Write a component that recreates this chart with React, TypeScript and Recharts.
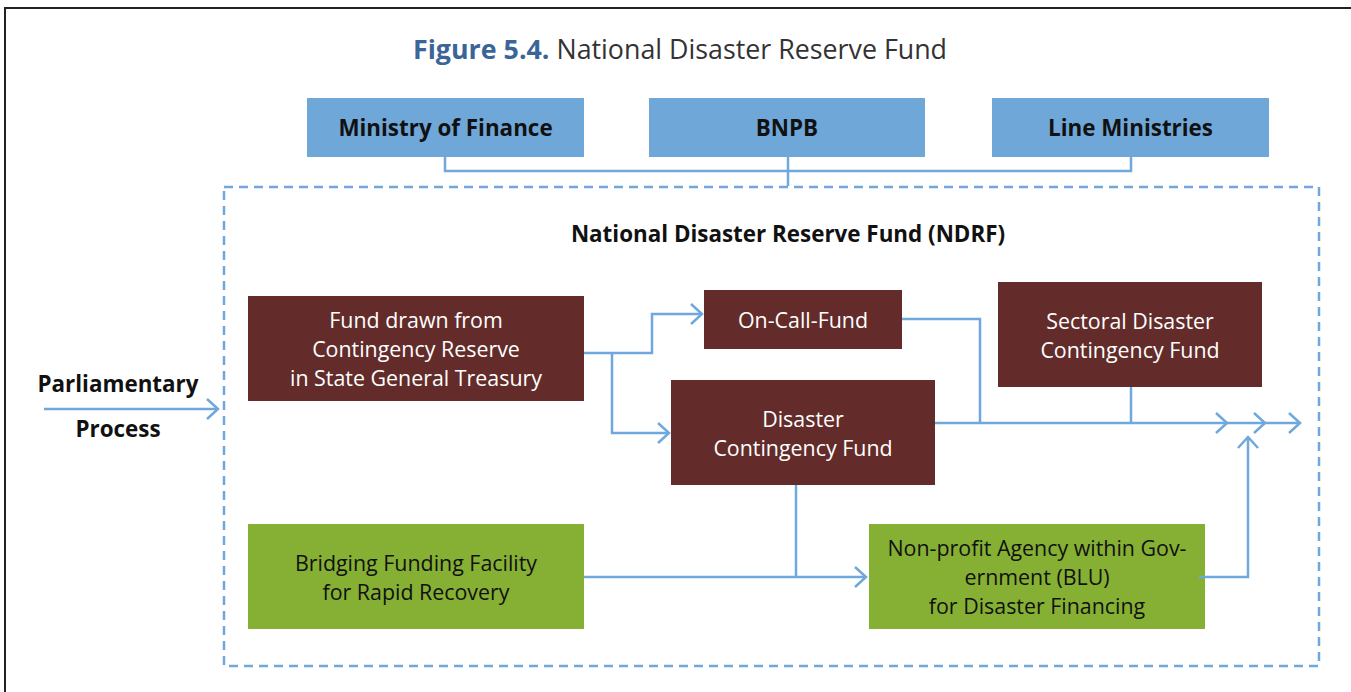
import { ComposedChart, XAxis, YAxis, Line, ReferenceArea, Scatter } from "recharts";

// diagram space: x 0..1351, y 0..692 (top down)
const topBoxes = [
  { id: "mof", lines: ["Ministry of Finance"], x1: 307, x2: 584, y1: 98, y2: 157 },
  { id: "bnpb", lines: ["BNPB"], x1: 649, x2: 925, y1: 98, y2: 157 },
  { id: "lm", lines: ["Line Ministries"], x1: 992, x2: 1269, y1: 98, y2: 157 },
];

const fundBoxes = [
  { id: "fdc", lines: ["Fund drawn from", "Contingency Reserve", "in State General Treasury"], x1: 248, x2: 584, y1: 296, y2: 401 },
  { id: "ocf", lines: ["On-Call-Fund"], x1: 704, x2: 902, y1: 290, y2: 349 },
  { id: "dcf", lines: ["Disaster", "Contingency Fund"], x1: 671, x2: 935, y1: 380, y2: 485 },
  { id: "sdcf", lines: ["Sectoral Disaster", "Contingency Fund"], x1: 998, x2: 1262, y1: 282, y2: 387 },
];

const greenBoxes = [
  { id: "bff", lines: ["Bridging Funding Facility", "for Rapid Recovery"], x1: 248, x2: 584, y1: 524, y2: 629 },
  { id: "blu", lines: ["Non-profit Agency within Gov-", "ernment (BLU)", "for Disaster Financing"], x1: 869, x2: 1205, y1: 524, y2: 629 },
];

const connectors = [
  [{ x: 445, y: 157 }, { x: 445, y: 171 }, { x: 1131, y: 171 }, { x: 1131, y: 157 }],
  [{ x: 788, y: 157 }, { x: 788, y: 186 }],
  [{ x: 44, y: 409 }, { x: 218, y: 409 }],
  [{ x: 584, y: 353 }, { x: 652, y: 353 }, { x: 652, y: 314 }, { x: 702, y: 314 }],
  [{ x: 612, y: 353 }, { x: 612, y: 433 }, { x: 669, y: 433 }],
  [{ x: 902, y: 319 }, { x: 980, y: 319 }, { x: 980, y: 423 }],
  [{ x: 935, y: 423 }, { x: 1300, y: 423 }],
  [{ x: 1131, y: 387 }, { x: 1131, y: 423 }],
  [{ x: 796, y: 485 }, { x: 796, y: 577 }],
  [{ x: 584, y: 577 }, { x: 866, y: 577 }],
  [{ x: 1199, y: 577 }, { x: 1248, y: 577 }, { x: 1248, y: 437 }],
];

const arrowTips = [
  { x: 218, y: 409, dir: "right" },
  { x: 702, y: 314, dir: "right" },
  { x: 669, y: 433, dir: "right" },
  { x: 1227, y: 423, dir: "right" },
  { x: 1265, y: 423, dir: "right" },
  { x: 1300, y: 423, dir: "right" },
  { x: 866, y: 577, dir: "right" },
  { x: 1248, y: 437, dir: "up" },
];

const frame = [{ x: 5, y: 692 }, { x: 5, y: 8 }, { x: 1351, y: 8 }];

const ndrfArea = { x1: 224, x2: 1319, y1: 187, y2: 666 };

const freeTexts = [
  { x: 118, y: 383, text: "Parliamentary", kind: "side" },
  { x: 118, y: 428, text: "Process", kind: "side" },
  { x: 788, y: 233, text: "National Disaster Reserve Fund (NDRF)", kind: "heading" },
];

const title = { x: 680, y: 48, bold: "Figure 5.4.", rest: " National Disaster Reserve Fund" };

const W = 1351;
const H = 692;
const BLUE = "#6FA8DC";
const FONT = "'Open Sans', sans-serif";

function boxLabel(lines: string[], color: string, weight: number, size: number) {
  return (props: any) => {
    const vb = props.viewBox || {};
    const cx = vb.x + vb.width / 2;
    const cy = vb.y + vb.height / 2;
    const lh = 29;
    const start = cy - ((lines.length - 1) * lh) / 2;
    return (
      <text x={cx} textAnchor="middle" fill={color} fontFamily={FONT} fontWeight={weight} fontSize={size}>
        {lines.map((l, i) => (
          <tspan key={i} x={cx} y={start + i * lh} dominantBaseline="central">
            {l}
          </tspan>
        ))}
      </text>
    );
  };
}

function ArrowHead(props: any) {
  const { cx, cy, payload } = props;
  const d = payload.dir === "up"
    ? `M${cx - 10},${cy + 11} L${cx},${cy} L${cx + 10},${cy + 11}`
    : `M${cx - 11},${cy - 10} L${cx},${cy} L${cx - 11},${cy + 10}`;
  return <path d={d} fill="none" stroke={BLUE} strokeWidth={2.5} />;
}

function FreeText(props: any) {
  const { cx, cy, payload } = props;
  return (
    <text x={cx} y={cy} textAnchor="middle" dominantBaseline="central" fontFamily={FONT}
      fontWeight={700} fontSize={22.4} fill="#111">
      {payload.text}
    </text>
  );
}

function TitleText(props: any) {
  const { cx, cy } = props;
  return (
    <text x={cx} y={cy} textAnchor="middle" dominantBaseline="central" fontFamily={FONT} fontSize={26.8}>
      <tspan fill="#3B6596" fontWeight={700}>{title.bold}</tspan>
      <tspan fill="#333">{title.rest}</tspan>
    </text>
  );
}

export default function App() {
  return (
    <div style={{ position: "absolute", left: 0, top: 0, background: "#fff" }}>
      <ComposedChart width={W} height={H} margin={{ top: 0, right: 0, bottom: 0, left: 0 }}>
        <XAxis type="number" dataKey="x" domain={[0, W]} allowDataOverflow hide />
        <YAxis type="number" dataKey="y" domain={[0, H]} reversed allowDataOverflow hide />

        <Line data={frame} dataKey="y" stroke="#222" strokeWidth={2} dot={false} activeDot={false}
          isAnimationActive={false} />

        <ReferenceArea x1={ndrfArea.x1} x2={ndrfArea.x2} y1={ndrfArea.y1} y2={ndrfArea.y2}
          fill="none" fillOpacity={0} stroke={BLUE} strokeWidth={2.5} strokeDasharray="9 6" />

        {connectors.map((c, i) => (
          <Line key={"c" + i} data={c} dataKey="y" stroke={BLUE} strokeWidth={2.5} dot={false}
            activeDot={false} isAnimationActive={false} strokeLinejoin="miter" />
        ))}

        {topBoxes.map((b) => (
          <ReferenceArea key={b.id} x1={b.x1} x2={b.x2} y1={b.y1} y2={b.y2} fill="#6FA7D9" fillOpacity={1}
            stroke="none" label={{ content: boxLabel(b.lines, "#111", 700, 22.4) }} />
        ))}
        {fundBoxes.map((b) => (
          <ReferenceArea key={b.id} x1={b.x1} x2={b.x2} y1={b.y1} y2={b.y2} fill="#632C2A" fillOpacity={1}
            stroke="none" label={{ content: boxLabel(b.lines, "#fff", 400, 21.4) }} />
        ))}
        {greenBoxes.map((b) => (
          <ReferenceArea key={b.id} x1={b.x1} x2={b.x2} y1={b.y1} y2={b.y2} fill="#86B034" fillOpacity={1}
            stroke="none" label={{ content: boxLabel(b.lines, "#111", 400, 21.4) }} />
        ))}

        <Scatter data={arrowTips} dataKey="y" shape={ArrowHead} isAnimationActive={false} />
        <Scatter data={freeTexts} dataKey="y" shape={FreeText} isAnimationActive={false} />
        <Scatter data={[title]} dataKey="y" shape={TitleText} isAnimationActive={false} />
      </ComposedChart>
    </div>
  );
}
